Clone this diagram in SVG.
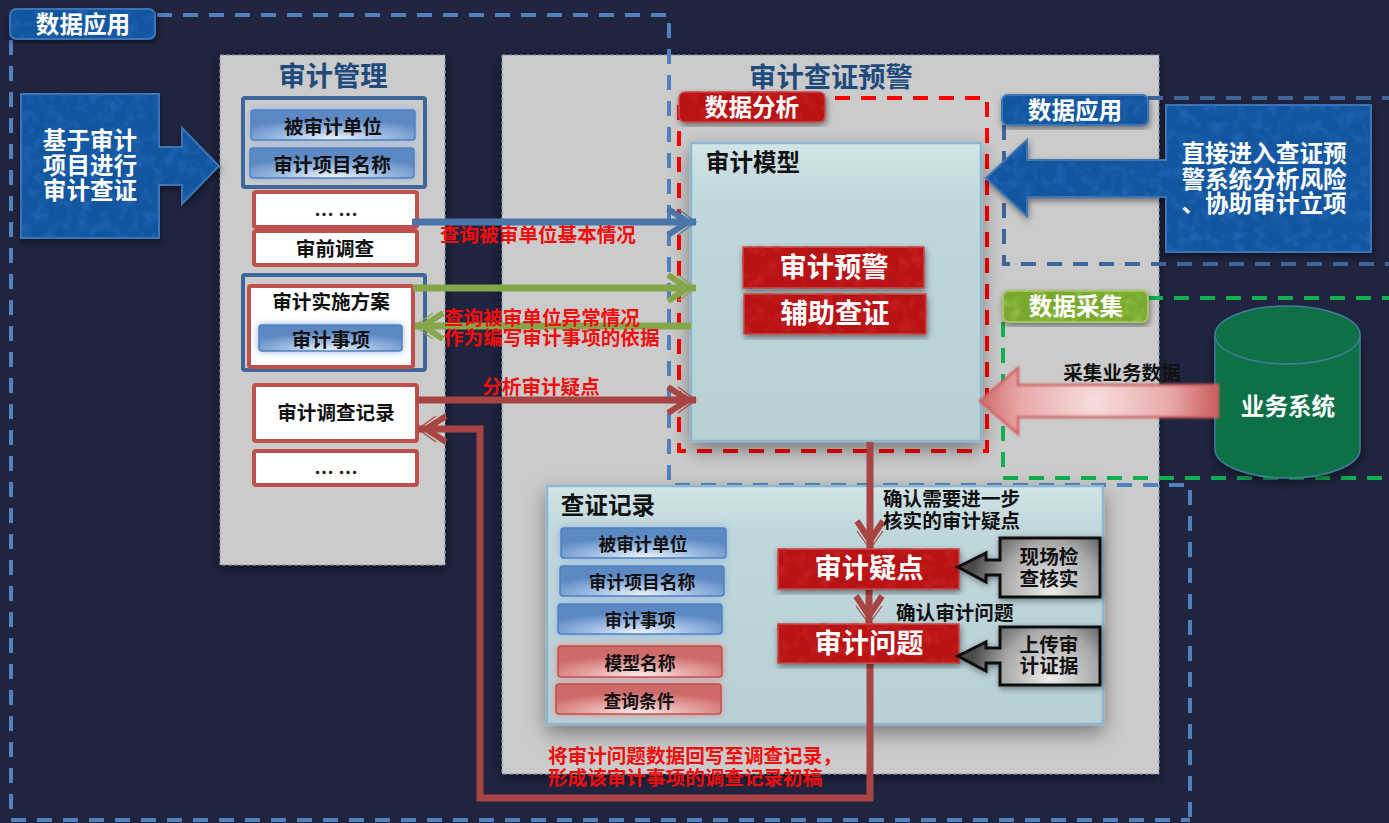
<svg xmlns="http://www.w3.org/2000/svg" width="1389" height="823" viewBox="0 0 1389 823">
<style>
text{font-family:"Noto Sans CJK SC","Noto Sans",sans-serif;font-weight:700;text-anchor:middle}
.t27{font-size:27.300px}.t235{font-size:23.600px}.t195{font-size:19.600px}.t177{font-size:17.800px}
.w{fill:#fff}.k{fill:#111}.r{fill:#f20d0d}.h{fill:#1f4a7c}.l{text-anchor:start}
.panel{fill:#cbcbcb;stroke:#7f93a8;stroke-width:1;stroke-dasharray:4 2;filter:url(#shadow)}
.blue{fill:#12569f;stroke:#3f77b5;stroke-width:2;filter:url(#mottleB)}
.red{fill:#b81214;stroke:#c9504f;stroke-width:1.500;filter:url(#mottleR)}
.green{fill:#78a82c;stroke:#a6c466;stroke-width:2;filter:url(#mottleG)}
.frame{fill:none;stroke:#3f6699;stroke-width:4}
.rw{fill:#fff;stroke:#c0504d;stroke-width:4}
.pb{fill:url(#pillB);stroke:#4f81bd;stroke-width:1.500;filter:url(#glowB)}
.pr{fill:url(#pillR);stroke:#c0504d;stroke-width:1.500;filter:url(#glowR)}
.aqua{fill:url(#aqua);stroke:#8fb6cf;stroke-width:2.500;filter:url(#shadow2)}
.grey{fill:url(#grey);stroke:#111;stroke-width:3;filter:url(#shadow3)}
.dash{fill:none;stroke-width:4;stroke-dasharray:15 11}
.ln{fill:none;stroke-width:7}
.lb{stroke:#4a75a8;marker-end:url(#hb)}
.lg{stroke:#86a64c;marker-end:url(#hg)}
.lr{stroke:#a94444;marker-end:url(#hr)}
</style>
<defs>
<radialGradient id="pillB" cx="50%" cy="95%" r="65%"><stop offset="0" stop-color="#eaf2fc"/><stop offset=".5" stop-color="#9dbbe2"/><stop offset="1" stop-color="#5c89c3"/></radialGradient>
<radialGradient id="pillR" cx="50%" cy="95%" r="65%"><stop offset="0" stop-color="#fdeaea"/><stop offset=".5" stop-color="#e6a5a5"/><stop offset="1" stop-color="#cf6a6a"/></radialGradient>
<radialGradient id="grey" gradientUnits="userSpaceOnUse" cx="1050" cy="590" r="80"><stop offset="0" stop-color="#ececec"/><stop offset=".6" stop-color="#a8a8a8"/><stop offset="1" stop-color="#4a4a4a"/></radialGradient>
<radialGradient id="grey2" gradientUnits="userSpaceOnUse" cx="1050" cy="678" r="80"><stop offset="0" stop-color="#ececec"/><stop offset=".6" stop-color="#a8a8a8"/><stop offset="1" stop-color="#4a4a4a"/></radialGradient>
<linearGradient id="aqua" x1="0" y1="0" x2="0" y2="1"><stop offset="0" stop-color="#d2e5e7"/><stop offset=".18" stop-color="#c0d7db"/><stop offset="1" stop-color="#b8d0d6"/></linearGradient>
<radialGradient id="pink" gradientUnits="userSpaceOnUse" cx="1095" cy="401" r="125"><stop offset="0" stop-color="#f8dede"/><stop offset=".6" stop-color="#e9a9a9"/><stop offset="1" stop-color="#c95b5b"/></radialGradient>
<filter id="shadow" x="-10%" y="-10%" width="120%" height="120%"><feDropShadow dx="0" dy="3" stdDeviation="6" flood-color="#000" flood-opacity=".55"/></filter>
<filter id="shadow2" x="-10%" y="-10%" width="120%" height="125%"><feDropShadow dx="0" dy="8" stdDeviation="10" flood-color="#000" flood-opacity=".4"/></filter>
<filter id="shadow3" x="-20%" y="-20%" width="140%" height="140%"><feDropShadow dx="1" dy="2" stdDeviation="3" flood-color="#000" flood-opacity=".45"/></filter>
<filter id="glowB" x="-10%" y="-30%" width="120%" height="160%"><feDropShadow dx="0" dy="0" stdDeviation="3.500" flood-color="#8fb4e8" flood-opacity="1"/></filter>
<filter id="glowR" x="-10%" y="-30%" width="120%" height="160%"><feDropShadow dx="0" dy="0" stdDeviation="3.500" flood-color="#e58a8a" flood-opacity="1"/></filter>
<filter id="soft" x="-5%" y="-10%" width="110%" height="120%"><feGaussianBlur stdDeviation=".9"/></filter>
<filter id="mottleB" x="-5%" y="-10%" width="110%" height="125%" color-interpolation-filters="sRGB"><feTurbulence type="fractalNoise" baseFrequency=".09" numOctaves="3" seed="3"/><feColorMatrix values="0 0 0 0 .16  0 0 0 0 .42  0 0 0 0 .76  0 0 0 1.600 -.7"/><feComposite in2="SourceGraphic" operator="in" result="nn"/><feMerge result="m"><feMergeNode in="SourceGraphic"/><feMergeNode in="nn"/></feMerge><feDropShadow in="m" dx="1" dy="3" stdDeviation="3" flood-color="#000" flood-opacity=".45"/></filter>
<filter id="mottleR" x="-5%" y="-10%" width="110%" height="125%" color-interpolation-filters="sRGB"><feTurbulence type="fractalNoise" baseFrequency=".09" numOctaves="3" seed="5"/><feColorMatrix values="0 0 0 0 .8  0 0 0 0 .16  0 0 0 0 .16  0 0 0 1.600 -.7"/><feComposite in2="SourceGraphic" operator="in" result="nn"/><feMerge result="m"><feMergeNode in="SourceGraphic"/><feMergeNode in="nn"/></feMerge><feDropShadow in="m" dx="1" dy="3" stdDeviation="3" flood-color="#000" flood-opacity=".45"/></filter>
<filter id="mottleG" x="-5%" y="-10%" width="110%" height="125%" color-interpolation-filters="sRGB"><feTurbulence type="fractalNoise" baseFrequency=".09" numOctaves="3" seed="7"/><feColorMatrix values="0 0 0 0 .62  0 0 0 0 .8  0 0 0 0 .32  0 0 0 1.600 -.7"/><feComposite in2="SourceGraphic" operator="in" result="nn"/><feMerge result="m"><feMergeNode in="SourceGraphic"/><feMergeNode in="nn"/></feMerge><feDropShadow in="m" dx="1" dy="3" stdDeviation="3" flood-color="#000" flood-opacity=".45"/></filter>
<marker id="hb" markerUnits="userSpaceOnUse" markerWidth="40" markerHeight="40" refX="36" refY="20" orient="auto" overflow="visible"><path d="M8 7L28 20L8 33" fill="none" stroke="#4a75a8" stroke-width="6"/><path d="M18 7L36 20L18 33" fill="none" stroke="#4a75a8" stroke-width="1.200"/></marker>
<marker id="hg" markerUnits="userSpaceOnUse" markerWidth="40" markerHeight="40" refX="36" refY="20" orient="auto" overflow="visible"><path d="M8 7L28 20L8 33" fill="none" stroke="#86a64c" stroke-width="6"/><path d="M18 7L36 20L18 33" fill="none" stroke="#86a64c" stroke-width="1.200"/></marker>
<marker id="hr" markerUnits="userSpaceOnUse" markerWidth="40" markerHeight="40" refX="36" refY="20" orient="auto" overflow="visible"><path d="M8 7L28 20L8 33" fill="none" stroke="#a94444" stroke-width="6"/><path d="M18 7L36 20L18 33" fill="none" stroke="#a94444" stroke-width="1.200"/></marker>
</defs>

<rect width="1389" height="823" fill="#20243f"/>

<g id="panels">
<rect class="panel" x="220" y="55" width="225" height="510"/>
<rect class="panel" x="502" y="55" width="657" height="719"/>
</g>

<g id="zones">
<path class="dash" stroke="#4f81bd" d="M157 15H669V485H1190V823"/>
<path class="dash" stroke="#4f81bd" d="M11 40V820H1190"/>
<path class="dash" stroke="#3f6699" d="M1148 98H1389M1004 125V264H1389"/>
<path class="dash" stroke="#0eb050" d="M1148 298H1389M1003 322V478H1389"/>
<rect class="dash" stroke="#f00" x="679" y="98" width="308" height="353"/>
</g>

<g id="arrow-left"><path class="blue" d="M21 94H159V147H182V128L219 166L182 204V185H159V238H21Z"/><text class="t235 w" y="149"><tspan x="90">基于审计</tspan><tspan x="90" y="174">项目进行</tspan><tspan x="90" y="199">审计查证</tspan></text></g>

<g id="audit-mgmt">
<text class="t27 h" x="333" y="86">审计管理</text>
<rect class="frame" x="243" y="98" width="182" height="89" rx="2"/>
<g id="n-unit"><rect class="pb" x="251" y="110" width="164" height="30" rx="3"/><text class="t195 k" x="333" y="134">被审计单位</text></g>
<g id="n-project"><rect class="pb" x="250" y="148" width="164" height="30" rx="3"/><text class="t195 k" x="332" y="172">审计项目名称</text></g>
<g id="n-dots1"><rect class="rw" x="254" y="192" width="163" height="35" rx="2"/><text class="t195 k" x="336" y="222">… …</text></g>
<g id="n-pre"><rect class="rw" x="254" y="231" width="163" height="34" rx="2"/><text class="t195 k" x="335" y="256">审前调查</text></g>
<rect class="frame" x="243" y="275" width="182" height="95" rx="2"/>
<g id="n-plan"><rect class="rw" x="249" y="286" width="164" height="81" rx="2"/><text class="t195 k" x="331" y="309">审计实施方案</text><rect class="pb" x="259" y="325" width="143" height="26" rx="3"/><text class="t195 k" x="331" y="347">审计事项</text></g>
<g id="n-record"><rect class="rw" x="254" y="385" width="163" height="56" rx="2"/><text class="t195 k" x="336" y="420">审计调查记录</text></g>
<g id="n-dots2"><rect class="rw" x="254" y="451" width="163" height="34" rx="2"/><text class="t195 k" x="336" y="480">… …</text></g>
</g>

<g id="audit-warning">
<text class="t27 h" x="831" y="87">审计查证预警</text>
<g id="n-model"><rect class="aqua" x="691" y="143" width="290" height="298"/><text class="t235 k" x="753" y="171">审计模型</text></g>
<g id="n-yujing"><rect class="red" x="743" y="247" width="181" height="41"/><text class="t27 w" x="834" y="277">审计预警</text></g>
<g id="n-fuzhu"><rect class="red" x="744" y="294" width="182" height="40"/><text class="t27 w" x="835" y="323">辅助查证</text></g>
<g id="badge-analysis"><rect class="red" x="679" y="92" width="146" height="30" rx="6"/><text class="t235 w" x="752" y="116">数据分析</text></g>
</g>

<g id="badge-app1"><rect class="blue" x="10" y="9" width="145" height="30" rx="6"/><text class="t235 w" x="83" y="33">数据应用</text></g>
<g id="badge-app2"><rect class="blue" x="1002" y="95" width="146" height="30" rx="6"/><text class="t235 w" x="1075" y="119">数据应用</text></g>
<g id="badge-collect"><rect class="green" x="1003" y="291" width="145" height="31" rx="6"/><text class="t235 w" x="1076" y="315">数据采集</text></g>

<g id="arrow-right"><path class="blue" d="M1166 105H1371V252H1166V197H1027V216L986 178L1027 140V160H1166Z"/><text class="t235 w" y="162"><tspan x="1264">直接进入查证预</tspan><tspan x="1264" y="188">警系统分析风险</tspan><tspan x="1264" y="212">、协助审计立项</tspan></text></g>

<g id="n-system">
<path d="M1215 335V449A72.500 29 0 0 0 1360 449V335Z" fill="#0f6f47" stroke="#3f7f99" stroke-width="1.500" filter="url(#shadow)"/>
<ellipse cx="1287.500" cy="335" rx="72.500" ry="29" fill="#0f6f47" stroke="#3f7f99" stroke-width="1.500"/>
<text class="t235 w" x="1288" y="415">业务系统</text>
</g>

<g id="pink-arrow">
<path d="M1218 385H1018V368L980 401L1018 434V417H1218Z" fill="url(#pink)" stroke="#d05f5f" stroke-width="2.500" filter="url(#soft)"/>
<text class="t195 k" x="1122" y="380">采集业务数据</text>
</g>

<g id="verify">
<rect class="aqua" x="547" y="486" width="556" height="238"/>
<text class="t235 k" x="608" y="514">查证记录</text>
<g id="v1"><rect class="pb" x="561" y="528" width="165" height="30" rx="3"/><text class="t177 k" x="643" y="551">被审计单位</text></g>
<g id="v2"><rect class="pb" x="560" y="566" width="164" height="30" rx="3"/><text class="t177 k" x="642" y="589">审计项目名称</text></g>
<g id="v3"><rect class="pb" x="558" y="604" width="164" height="30" rx="3"/><text class="t177 k" x="640" y="627">审计事项</text></g>
<g id="v4"><rect class="pr" x="558" y="646" width="164" height="31" rx="3"/><text class="t177 k" x="640" y="670">模型名称</text></g>
<g id="v5"><rect class="pr" x="556" y="684" width="165" height="30" rx="3"/><text class="t177 k" x="639" y="708">查询条件</text></g>
</g>

<g id="connectors">
<path class="ln lb" d="M412 222H696"/>
<path class="ln lg" d="M413 288H696"/>
<path class="ln lg" d="M691 326H415"/>
<path class="ln lr" d="M417 400H696"/>
<path class="ln lr" d="M870 442V549"/>
<path class="ln lr" d="M869 589V624"/>
<path class="ln lr" d="M870 664V798H480V429H418"/>
</g>

<g id="n-doubt"><rect class="red" x="778" y="549" width="181" height="40"/><text class="t27 w" x="869" y="578">审计疑点</text></g>
<g id="n-problem"><rect class="red" x="778" y="624" width="181" height="39"/><text class="t27 w" x="869" y="653">审计问题</text></g>
<g id="n-check"><path class="grey" d="M1000 538H1100V597H1000V575H986V582L958 567L986 553V560H1000Z"/><text class="t195 k" y="564"><tspan x="1049">现场检</tspan><tspan x="1049" y="586">查核实</tspan></text></g>
<g id="n-upload"><path d="M1000 627H1100V685H1000V663H986V671L958 656L986 642V648H1000Z" fill="url(#grey2)" stroke="#111" stroke-width="3" filter="url(#shadow3)"/><text class="t195 k" y="652"><tspan x="1049">上传审</tspan><tspan x="1049" y="673">计证据</tspan></text></g>

<g id="labels">
<text class="t195 r" x="538" y="242">查询被审单位基本情况</text>
<text class="t195 r l" y="325"><tspan x="444">查询被审单位异常情况</tspan><tspan x="444" y="345">作为编写审计事项的依据</tspan></text>
<text class="t195 r" x="541" y="394">分析审计疑点</text>
<text class="t195 k l" y="506"><tspan x="883">确认需要进一步</tspan><tspan x="883" y="528">核实的审计疑点</tspan></text>
<text class="t195 k l" x="896" y="620">确认审计问题</text>
<text class="t195 r l" y="763"><tspan x="548">将审计问题数据回写至调查记录，</tspan><tspan x="548" y="785">形成该审计事项的调查记录初稿</tspan></text>
</g>
</svg>
